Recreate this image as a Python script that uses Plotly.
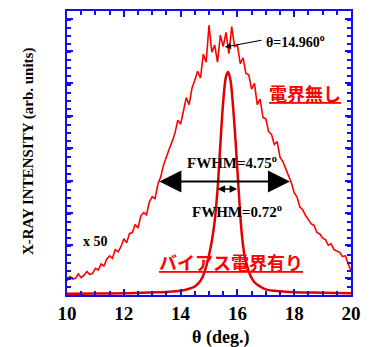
import plotly.graph_objects as go
import numpy as np

# Broad curve (x50), theta in degrees at 0.1 step
broad_theta = np.round(np.arange(10.0, 20.0001, 0.1), 2).tolist()
broad_vals = [
    5.0, 6.5, 5.6, 5.9, 7.4, 6.1, 7.0, 8.3, 7.2, 7.6,
    9.4, 8.8, 10.9, 10.2, 12.6, 13.8, 12.9, 16.0, 15.2, 17.0,
    19.8, 18.4, 21.6, 22.0, 24.8, 23.6, 27.9, 29.0, 28.2, 32.8,
    34.6, 33.9, 39.0, 41.6, 45.8, 49.0, 51.4, 54.0, 56.9, 61.5,
    60.2, 64.8, 69.5, 67.0, 72.8, 75.6, 78.8, 76.4, 84.8, 82.0,
    95.0, 85.5, 88.0, 82.0, 91.5, 87.5, 92.5, 85.0, 94.5, 87.5,
    88.0, 81.5, 83.5, 78.0, 77.5, 72.5, 74.5, 67.0, 69.0, 62.5,
    62.0, 57.5, 56.5, 53.0, 54.0, 48.5, 47.0, 44.5, 42.0, 39.5,
    36.0, 34.5, 31.0, 30.0, 28.0, 26.5, 25.0, 24.5, 22.0, 21.5,
    20.0, 19.5, 17.5, 18.0, 16.0, 15.5, 15.0, 13.5, 13.8, 11.0,
    8.5,
]

# Narrow curve (bias field)
narrow_theta = [10.0, 11.0, 12.0, 13.0, 13.5, 14.0, 14.3, 14.5, 14.7, 14.8,
                14.9, 15.0, 15.1, 15.2, 15.3, 15.4, 15.5, 15.6, 15.67, 15.75,
                15.85, 15.95, 16.05, 16.15, 16.25, 16.35, 16.45, 16.6, 16.8, 17.0,
                17.5, 18.0, 19.0, 20.0]
narrow_vals = [0.4, 0.5, 0.6, 0.9, 1.1, 1.5, 2.2, 3.0, 5.0, 7.0,
               10.0, 14.0, 19.0, 26.0, 37.0, 53.0, 68.0, 77.0, 78.5, 76.0,
               66.0, 52.0, 36.0, 22.0, 14.0, 10.0, 7.0, 4.5, 3.0, 2.0,
               1.3, 1.0, 0.8, 0.6]

x_ticks = [10, 12, 14, 16, 18, 20]

serif = "Liberation Serif"
cjk = "Noto Sans CJK JP"
blue = "#1010e8"

fig = go.Figure()
fig.add_trace(go.Scatter(x=broad_theta, y=broad_vals, mode="lines",
                         line=dict(color="#ff0000", width=1.6), showlegend=False))
fig.add_trace(go.Scatter(x=narrow_theta, y=narrow_vals, mode="lines",
                         line=dict(color="#e00000", width=2.5, shape="spline"),
                         showlegend=False))

anns = []
# theta arrow
anns.append(dict(x=15.56, y=87.3, ax=16.9, ay=89.8, xref="x", yref="y", axref="x", ayref="y",
                 text="", showarrow=True, arrowhead=2, arrowsize=1, arrowwidth=1.2,
                 arrowcolor="black", standoff=0, startstandoff=0))
anns.append(dict(x=16.93, y=89.5, xref="x", yref="y", xanchor="left", yanchor="middle",
                 text="<b>θ=14.960<sup>o</sup></b>", showarrow=False,
                 font=dict(family=serif, size=14, color="black")))
# big FWHM arrow
anns.append(dict(x=17.85, y=40.0, ax=13.2, ay=40.0, xref="x", yref="y", axref="x", ayref="y",
                 text="", showarrow=True, arrowhead=2, startarrowhead=2, arrowside="end+start",
                 arrowsize=2.2, startarrowsize=2.2, arrowwidth=2, arrowcolor="black",
                 standoff=0, startstandoff=0))
# small FWHM arrow
anns.append(dict(x=15.99, y=37.3, ax=15.25, ay=37.3, xref="x", yref="y", axref="x", ayref="y",
                 text="", showarrow=True, arrowhead=2, startarrowhead=2, arrowside="end+start",
                 arrowsize=1, startarrowsize=1, arrowwidth=1.5, arrowcolor="black",
                 standoff=0, startstandoff=0))
anns.append(dict(x=15.82, y=46.8, xref="x", yref="y", text="<b>FWHM=4.75<sup>o</sup></b>",
                 showarrow=False, font=dict(family=serif, size=15, color="black")))
anns.append(dict(x=15.98, y=29.5, xref="x", yref="y", text="<b>FWHM=0.72<sup>o</sup></b>",
                 showarrow=False, font=dict(family=serif, size=15, color="black")))
anns.append(dict(x=10.5, y=18.7, xref="x", yref="y", xanchor="left", text="<b>x 50</b>",
                 showarrow=False, font=dict(family=serif, size=14, color="black")))
anns.append(dict(x=17.03, y=71.0, xref="x", yref="y", xanchor="left",
                 text="<b><u>電界無し</u></b>", showarrow=False,
                 font=dict(family=cjk, size=18, color="#ff0000")))
anns.append(dict(x=13.17, y=11.6, xref="x", yref="y", xanchor="left",
                 text="<b><u>バイアス電界有り</u></b>", showarrow=False,
                 font=dict(family=cjk, size=18, color="#ff0000")))
# axis titles
anns.append(dict(x=0.539, y=-0.148, xref="paper", yref="paper", text="<b>θ (deg.)</b>",
                 showarrow=False, xanchor="center", yanchor="middle",
                 font=dict(family=serif, size=18, color="black")))
anns.append(dict(x=-0.137, y=0.507, xref="paper", yref="paper",
                 text="<b>X-RAY INTENSITY (arb. units)</b>", textangle=-90,
                 showarrow=False, xanchor="center", yanchor="middle",
                 font=dict(family=serif, size=15, color="black")))

fig.update_layout(
    width=364, height=339,
    margin=dict(l=59, r=21, t=3, b=52),
    paper_bgcolor="white", plot_bgcolor="white",
    annotations=anns,
    xaxis=dict(range=[10, 20], tickvals=x_ticks, ticktext=[str(v) for v in x_ticks],
               ticks="inside", ticklen=6, tickwidth=1.5, tickcolor=blue,
               minor=dict(dtick=0.5, ticks="inside", ticklen=4, tickcolor=blue, tickwidth=1.5),
               showline=True, linecolor=blue, linewidth=2, mirror="ticks",
               showgrid=False, zeroline=False, automargin=False,
               tickfont=dict(family=serif, size=19, color="black", weight="bold")),
    yaxis=dict(range=[0, 100], tick0=6.1, dtick=11.4, showticklabels=False,
               ticks="inside", ticklen=6, tickwidth=1.5, tickcolor=blue,
               minor=dict(dtick=2.85, ticks="inside", ticklen=4, tickcolor=blue, tickwidth=1.5),
               showline=True, linecolor=blue, linewidth=2, mirror="ticks",
               showgrid=False, zeroline=False, automargin=False),
)

fig.write_html("out.html")
